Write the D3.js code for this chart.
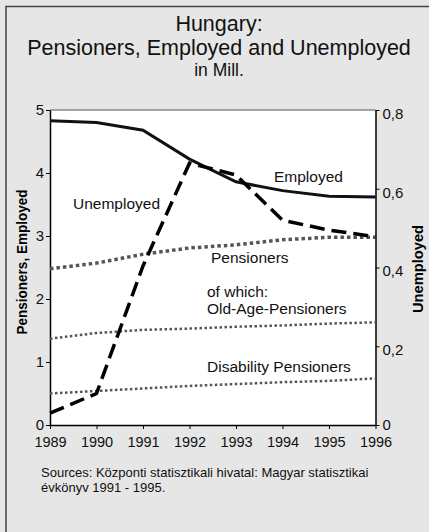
<html>
<head>
  <meta charset="utf-8">
  <script src="https://d3js.org/d3.v7.min.js"></script>
  <script>
    // values
    var years        = [1989, 1990, 1991, 1992, 1993, 1994, 1995, 1996];
    var employed     = [4.83, 4.80, 4.68, 4.22, 3.86, 3.72, 3.63, 3.62];
    var pensioners   = [2.48, 2.57, 2.71, 2.81, 2.86, 2.94, 2.98, 2.98];
    var oldAge       = [1.37, 1.46, 1.51, 1.53, 1.56, 1.58, 1.61, 1.63];
    var disability   = [0.50, 0.54, 0.58, 0.62, 0.65, 0.68, 0.70, 0.74];
    var unemployed   = [0.030, 0.080, 0.404, 0.665, 0.635, 0.520, 0.495, 0.478];
    var leftTicks    = [0, 1, 2, 3, 4, 5];
    var rightTicks   = [0, 0.2, 0.4, 0.6, 0.8];

    function makeChart() {
      var font = "Arial, 'Liberation Sans', sans-serif";
      var svg = d3.select( "#chart" );

      var xSc = d3.scaleLinear().domain([1989, 1996]).range([50, 375.5]);
      var ySc = d3.scaleLinear().domain([0, 5]).range([425, 110]);
      var y2Sc = d3.scaleLinear().domain([0, 0.8]).range([425, 110]);

      // outer frame
      svg.append( "rect" ).attr( "x", 0 ).attr( "y", 0 ).attr( "width", 429 ).attr( "height", 532 )
        .attr( "fill", "#e6e6e6" );
      svg.append( "path" ).attr( "d", "M6,540 L6,6.5 L440,6.5" )
        .attr( "fill", "none" ).attr( "stroke", "#444" ).attr( "stroke-width", 1.5 );

      // plot area
      svg.append( "rect" ).attr( "x", 50 ).attr( "y", 110 ).attr( "width", 325.5 ).attr( "height", 315 )
        .attr( "fill", "white" ).attr( "stroke", "none" );
      svg.append( "line" ).attr( "x1", 50 ).attr( "x2", 375.5 ).attr( "y1", 110 ).attr( "y2", 110 )
        .attr( "stroke", "#888" ).attr( "stroke-width", 1.5 );

      // titles
      var t = svg.append( "g" ).attr( "font-family", font ).attr( "text-anchor", "middle" ).attr( "fill", "#111" );
      t.append( "text" ).attr( "x", 219 ).attr( "y", 31 ).attr( "font-size", 21.5 ).text( "Hungary:" );
      t.append( "text" ).attr( "x", 219 ).attr( "y", 55 ).attr( "font-size", 21.5 ).text( "Pensioners, Employed and Unemployed" );
      t.append( "text" ).attr( "x", 219 ).attr( "y", 76 ).attr( "font-size", 17.5 ).text( "in Mill." );

      // axes
      var gl = svg.append( "g" ).attr( "transform", "translate(50,0)" )
        .call( d3.axisLeft( ySc ).tickValues( leftTicks ).tickSize( 4 ).tickSizeOuter( 0 ).tickPadding( 2 )
          .tickFormat( d3.format( "d" ) ) );
      var gr = svg.append( "g" ).attr( "transform", "translate(375.5,0)" )
        .call( d3.axisRight( y2Sc ).tickValues( rightTicks ).tickSize( 4 ).tickSizeOuter( 0 ).tickPadding( 3 )
          .tickFormat( d => d3.format( "" )( +d.toFixed(1) ).replace( ".", "," ) ) );
      var gb = svg.append( "g" ).attr( "transform", "translate(0,425)" )
        .call( d3.axisBottom( xSc ).tickValues( years ).tickSize( 4 ).tickSizeOuter( 0 ).tickPadding( 8 )
          .tickFormat( d3.format( "d" ) ) );
      [gl, gr, gb].forEach( g => {
        g.selectAll( "path" ).attr( "stroke", "#000" ).attr( "stroke-width", 1.5 );
        g.selectAll( "line" ).attr( "stroke", "#000" );
        g.selectAll( "text" ).attr( "font-family", font ).attr( "font-size", 15 ).attr( "fill", "#111" );
      });
      gr.selectAll( "text" ).attr( "dy", d => d === 0 ? "0.32em" : "0.55em" );
      gb.selectAll( "text" ).attr( "font-size", 14.5 );

      svg.append( "text" ).attr( "transform", "translate(27,262) rotate(-90)" )
        .attr( "text-anchor", "middle" ).attr( "font-family", font ).attr( "font-weight", "bold" )
        .attr( "font-size", 15 ).attr( "textLength", 145 ).attr( "lengthAdjust", "spacingAndGlyphs" )
        .text( "Pensioners, Employed" );
      svg.append( "text" ).attr( "transform", "translate(423,269) rotate(-90)" )
        .attr( "text-anchor", "middle" ).attr( "font-family", font ).attr( "font-weight", "bold" )
        .attr( "font-size", 15 ).attr( "textLength", 88 ).attr( "lengthAdjust", "spacingAndGlyphs" )
        .text( "Unemployed" );

      // series
      var mk = function( sc ) {
        return d3.line().x( (d, i) => xSc( years[i] ) ).y( d => sc( d ) );
      };
      var series = [
        { v: pensioners, sc: ySc, w: 3.5, dash: "3.5,3", col: "#555" },
        { v: oldAge,     sc: ySc, w: 2.5, dash: "2.5,2.5", col: "#555" },
        { v: disability, sc: ySc, w: 2.5, dash: "2.5,2.5", col: "#555" },
        { v: employed,   sc: ySc, w: 3, dash: null, col: "#111" },
        { v: unemployed, sc: y2Sc, w: 3.5, dash: "15,7", col: "#000" }
      ];
      series.forEach( s => {
        svg.append( "path" ).attr( "d", mk( s.sc )( s.v ) )
          .attr( "fill", "none" ).attr( "stroke", s.col ).attr( "stroke-width", s.w )
          .attr( "stroke-dasharray", s.dash );
      });

      // series labels
      var lb = svg.append( "g" ).attr( "font-family", font ).attr( "font-size", 15.5 ).attr( "fill", "#111" );
      lb.append( "text" ).attr( "x", 274 ).attr( "y", 182 ).text( "Employed" );
      lb.append( "text" ).attr( "x", 73 ).attr( "y", 209 ).text( "Unemployed" );
      lb.append( "text" ).attr( "x", 211 ).attr( "y", 263 ).text( "Pensioners" );
      lb.append( "text" ).attr( "x", 207 ).attr( "y", 297 ).text( "of which:" );
      lb.append( "text" ).attr( "x", 207 ).attr( "y", 314 ).text( "Old-Age-Pensioners" );
      lb.append( "text" ).attr( "x", 207 ).attr( "y", 372 ).text( "Disability Pensioners" );

      // source
      var src = svg.append( "g" ).attr( "font-family", font ).attr( "font-size", 13 ).attr( "fill", "#111" );
      src.append( "text" ).attr( "x", 41 ).attr( "y", 477 ).text( "Sources: Központi statisztikali hivatal: Magyar statisztikai" );
      src.append( "text" ).attr( "x", 41 ).attr( "y", 492 ).text( "évkönyv 1991 - 1995." );
    }
  </script>
</head>

<body onload="makeChart()" style="margin:0">
  <svg id="chart" width="429" height="532"></svg>
</body>
</html>
